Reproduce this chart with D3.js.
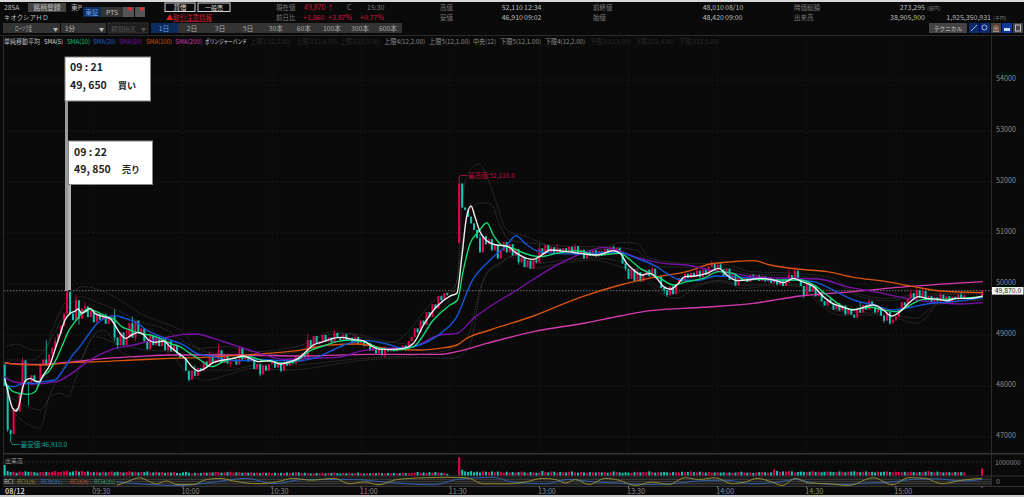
<!DOCTYPE html>
<html>
<head>
<meta charset="utf-8">
<script src="https://cdn.jsdelivr.net/npm/d3@7"></script>
<style>
  html, body { margin: 0; padding: 0; background: #0a0a0a; overflow: hidden; }
  text { font-family: "Noto Sans CJK JP", "Noto Sans", sans-serif; }
  .axis path, .axis line { display: none; }
  .axis text { fill: #8a8a8a; font-size: 7.2px; }
</style>
</head>
<body>
<div id="chart"></div>
<script>
// price ticks and session ticks (minutes counted from 09:00, lunch collapsed)
const priceTicks = [47000, 48000, 49000, 50000, 51000, 52000, 53000, 54000];
const timeTickMinutes = [30, 60, 90, 120, 150, 180, 210, 240, 270, 300];
const timeTickLabels = ["09:30", "10:00", "10:30", "11:00", "11:30", "13:00", "13:30", "14:00", "14:30", "15:00"];

// one minute closes, null where no bar was printed
const candleClose = [
  48000,47140,47060,47560,47500,47850,48500,48080,48030,48210,
  48100,48040,48420,48520,48400,48620,48750,48880,49020,49180,
  49420,49850,49420,49290,49680,49320,49520,49560,49350,49480,
  49250,49420,49300,49400,49220,49340,49380,48950,48800,49050,
  48800,48950,49230,48950,49280,49050,49130,48880,48720,48980,
  48800,48960,48780,48920,48700,48880,48680,48800,48640,48560,
  48550,48300,48120,48300,48200,48350,48300,48480,48380,48600,
  48450,48520,48700,48450,48600,48440,48480,48520,48420,48740,
  48520,48600,48480,48540,48330,48430,48230,48400,48300,48430,
  48500,48360,48440,48300,48480,48400,48500,48440,48580,48480,
  48640,48560,48900,48750,48980,48820,48880,49000,48870,48950,
  48860,49040,48950,48900,49010,48880,48950,48840,48960,48830,
  48880,48780,48840,48690,48780,48640,48720,48600,48730,48680,
  48740,48680,48760,48720,48790,48700,48880,48960,49130,49050,
  49280,49200,49450,49350,49600,49520,49760,49680,49820,49780,
  null,null,null,51970,51500,51450,51320,51190,51060,50900,
  50620,50940,50780,50880,50660,50770,50500,50650,50820,50620,
  50780,50560,50680,50430,50520,50330,50460,50300,50480,50420,
  50700,50580,50760,50620,50720,50600,50690,50590,50700,50620,
  50730,50640,50740,50600,50670,50500,50640,50550,50660,50540,
  50640,50560,50690,50620,50720,50650,50710,50600,50400,50300,
  50100,50290,50060,50230,50050,50200,50280,50150,50300,50120,
  50150,49920,49880,49780,49950,49800,50000,50120,50050,50200,
  50120,50220,50150,50260,50130,50280,50180,50340,50400,50250,
  50380,50290,50160,50300,50080,50190,49970,50120,50060,50130,
  50040,50180,50080,50170,50060,50150,50050,50130,50020,50100,
  49990,50060,49960,50030,50170,50060,50260,50100,49960,49780,
  49990,49850,49970,49760,49840,49660,49580,49700,49620,49500,
  49620,49480,49580,49410,49500,49400,49340,49520,49440,49590,
  49500,49660,49560,49440,49530,49380,49280,49450,49230,49300,
  49360,49500,49640,49580,49720,49820,49700,49880,49730,49860,
  49680,49760,49650,49740,49660,49790,49690,49760,49640,49750,
  49700,49790,49710,49780,null,null,null,null,null,49870
];
// bars that did not open on the previous close
const openMinutes = [0, 153, 329];
const openValues = [48420, 50800, 49780];
const highMinutes = [6,14,17,21,24,27,34,37,41,43,49,64,69,72,79,83,102,105,111,118,128,135,153,160,180,186,192,205,213,218,233,238,241,252,264,266,288,291,305,307,309,315,322];
const highValues = [48560,48900,48950,49870,49790,49640,49420,49500,49100,49360,49050,48400,48680,48840,48790,48640,49020,48950,49100,49010,48780,48800,52110,50980,50780,50780,50790,50760,50320,50370,50320,50460,50430,50200,50300,50340,49640,49700,49880,49930,49900,49840,49840];
const lowMinutes = [1,2,3,8,11,25,37,38,44,47,55,62,76,86,93,128,173,209,222,223,269,283,296,298,300,319];
const lowValues = [47100,46910,47050,47620,47990,49200,48880,48720,48880,48860,48640,48090,48380,48190,48270,48560,50380,50260,49800,49750,49720,49380,49240,49200,49280,49610];

// volume per minute, thousands of shares
const volume = [
  780,330,260,280,200,300,260,310,270,290,
  250,210,260,230,270,250,290,330,240,280,
  320,350,240,300,360,280,330,260,300,250,
  240,280,220,270,230,260,300,240,280,260,
  220,250,310,240,280,230,260,250,300,220,
  230,280,220,250,200,240,220,260,190,160,
  240,270,210,140,200,170,190,220,200,230,
  220,260,240,210,230,250,280,210,230,270,
  200,230,210,240,190,220,180,230,200,220,
  170,210,160,200,180,220,190,210,250,230,
  180,200,170,160,150,190,170,200,160,180,
  190,220,170,150,200,170,190,150,180,210,
  170,150,180,160,190,170,210,170,150,180,
  160,190,150,170,200,180,170,190,210,260,
  200,230,190,250,210,260,220,200,180,120,
  null,null,null,1370,420,300,260,320,240,290,
  230,310,280,250,300,240,290,270,210,280,
  230,260,220,250,290,240,200,260,230,210,
  220,340,250,230,300,280,220,260,250,230,
  280,300,240,210,260,230,200,250,240,220,
  270,230,260,210,240,300,260,230,200,240,
  220,190,250,280,230,260,240,310,250,220,
  260,230,270,240,210,260,230,220,280,240,
  260,300,250,230,280,240,220,260,210,230,
  250,220,240,210,230,190,220,250,280,240,
  210,230,190,220,250,270,240,210,230,440,
  340,260,300,280,320,310,240,260,290,270,
  250,280,330,260,290,240,270,300,280,260,
  250,300,270,240,280,290,310,260,240,280,
  300,260,270,230,290,250,280,300,260,240,
  290,260,240,270,230,280,250,220,260,240,
  280,330,260,240,290,250,230,270,240,220,
  260,240,250,230,null,null,null,null,null,520
];

// moving averages and bands, read at the turning points of each line
const sma5Minutes = [0,1.2,2.7,3.8,4.9,6,7.2,8.7,10.2,11.7,13,15.2,16.9,18.6,20.3,22,23.7,24.8,25.9,27.4,28.7,30.4,33.2,35.4,37.1,38.8,40.8,42.7,45,46.7,48.4,50.6,53.4,55.7,58.5,60.7,63,65.2,67.4,70.2,73.6,77,80.3,82.6,85.4,89.3,92.7,96,98.9,101.7,103.9,107.3,110.6,113.4,116.8,120.7,123.5,126.4,129.7,134.2,137.6,141,145.4,149.9,152.2,153.9,155.5,157,158.3,160,162.3,165.6,169,172.4,175.7,178,180.8,183.6,189.2,193.7,199.3,204.9,207.2,209.4,211.7,214.5,217.3,219.5,221.8,224,226.3,229,232.4,236.4,240.3,243.1,246.5,249.8,254.3,258.8,262.2,265.5,268.4,272.3,275.6,279,282.4,285.7,289.1,292.5,295.8,298.6,301.4,304.3,307.6,310.4,313.8,317.2,320.5,325,329.3];
const sma5Values = [48150,47856,47562,47510,47627,47954,48117,48150,48098,48085,48215,48411,48705,49000,49294,49424,49470,49509,49424,49470,49522,49424,49359,49326,49196,49032,48934,49000,49052,49013,48902,48856,48882,48771,48640,48542,48379,48294,48346,48457,48510,48542,48588,48542,48477,48497,48431,48477,48542,48693,48804,48869,48935,48954,48915,48889,48784,48719,48719,48738,48836,49196,49555,49764,49817,50536,51320,51529,51320,51026,50849,50764,50745,50601,50503,50483,50568,50666,50634,50601,50568,50653,50601,50405,50275,50177,50209,50111,49948,49896,49981,50144,50157,50209,50307,50177,50066,50079,50111,50079,50026,50111,50046,49948,49752,49608,49543,49490,49543,49588,49490,49373,49458,49621,49752,49719,49700,49673,49719,49719,49765];
const sma10Minutes = [0,1.2,2.9,5.2,7.9,10.2,12.4,15.2,17.5,19.7,21.4,23.7,25.9,28.1,30.9,34.3,37.1,39.4,42.2,45.5,48.9,52.3,55.7,59,62.4,65.8,69.7,73.6,78.1,82.6,86,90.4,94.9,99.4,102.8,107.3,111.8,116.3,121.9,126.4,132,137.6,144.3,149.9,152.4,154.4,156.7,159.5,162.3,164.5,167.3,171.2,175.7,180.2,185.8,192.6,199.3,207.2,210.6,213.9,217.3,220.7,225.2,229.6,235.2,240.3,245.3,249.3,254.3,261,267.8,272.3,276.8,281.2,285.7,291.4,295.8,300.3,304.8,309.3,314.9,321.6,329.3];
const sma10Values = [48084,47987,47888,47856,47836,47888,48150,48313,48542,48836,49065,49261,49424,49509,49457,49359,49294,49163,49098,49032,49000,48934,48836,48771,48640,48510,48379,48477,48562,48575,48510,48477,48444,48542,48693,48784,48869,48902,48849,48738,48706,48771,49294,49588,49686,50274,50797,51026,51202,50960,50764,50699,50588,50536,50601,50653,50568,50601,50471,50307,50209,50111,49981,50046,50111,50242,50209,50079,50092,50079,50079,49981,49784,49588,49503,49543,49490,49458,49588,49699,49699,49719,49752];
const sma20Minutes = [0,2.9,6.3,9.6,13,16.9,19.7,22.5,25.3,28.1,30.9,34.3,37.1,40.5,44.4,47.8,51.2,55.7,60.2,64.6,69.1,74.7,80.3,86,92.7,98.3,105,110.6,116.3,121.9,128.6,134.2,138.7,146.5,152.2,157.2,163.4,169,172.1,175.2,179.1,184.7,192.6,200.4,207.2,212.8,218.4,222.9,226.8,233,239.7,245.3,252,259.9,266.7,272.3,279,285.7,292.5,299.2,304.8,310.4,319.4,329.3];
const sma20Values = [48019,47987,48052,48052,48085,48117,48313,48575,48771,49000,49209,49346,49379,49326,49241,49098,49000,48902,48804,48640,48588,48510,48497,48523,48497,48497,48562,48706,48849,48889,48823,48738,48784,49019,49359,50045,50470,50764,50947,50797,50653,50601,50588,50614,50614,50503,50373,50209,50092,50066,50157,50144,50111,50066,50079,50046,49882,49686,49588,49490,49543,49608,49654,49732];
const sma50Minutes = [0,2.9,9.6,17.5,22.5,28.7,35.4,43.3,50,55.7,60.2,64.6,70.2,78.1,86,93.8,100.5,111.8,120.7,128.6,136.4,146.5,152.2,157.8,172.4,187,195.9,201.8,207.2,213.9,221.8,229.6,238.6,245.3,254.3,266.7,274.5,283.5,292.5,303.7,313.8,321.6,329.3];
const sma50Values = [48183,48084,48039,48085,48248,48509,48705,48803,48902,48967,49013,49019,48934,48784,48640,48523,48542,48562,48693,48738,48758,49000,49032,49326,49882,50405,50634,50719,50640,50503,50405,50373,50262,50209,50131,50111,50092,49948,49850,49719,49634,49608,49634];
const sma100Minutes = [0,4,13,23.1,32,43.3,55.7,66.9,83.7,98.3,109.5,118.5,128.6,139.8,146.3,152.2,155.5,163.4,178,193.7,207.2,218.4,229.6,237.5,245.3,252,257.7,267.8,276.8,285.7,296.9,305.9,314.9,329.3];
const sma100Values = [48464,48424,48411,48464,48477,48509,48542,48562,48621,48693,48804,48823,48738,48706,48738,48804,48934,49098,49372,49738,49981,50131,50242,50392,50438,50458,50373,50288,50242,50131,50046,49948,49863,49830];
const sma200Minutes = [0,11.9,23.1,34.3,45.5,55.7,78.1,100.5,123,146.3,152.2,162.3,178,195.9,207.2,217.3,235.2,252,267.8,285.7,303.7,319.4,329.3];
const sma200Values = [48444,48424,48477,48542,48581,48608,48608,48588,48621,48621,48673,48836,49065,49241,49373,49477,49543,49621,49765,49850,49948,50013,50046];
const bandUpperMinutes = [0.7,4,9.6,13.6,16.4,20.9,26.5,32,38.8,45.5,52.3,59,65.7,74.7,83.7,95,100,110,130,145,152,154.4,156.7,159.5,162.8,165.6,169,175.7,182.5,191.5,200,207,212.8,217.3,229.6,239.7,252,266.7,279,285.7,297,305.9,319.4,329.3];
const bandUpperValues = [48771,48823,48705,48705,49163,49686,49947,49882,49686,49424,49261,49098,48738,48771,48673,48738,48800,49060,48850,49700,50000,51777,52235,52353,52039,51581,51058,50928,50764,50666,50666,50811,50798,50503,50405,50405,50242,50209,50111,49850,49719,49784,49817,49830];
const bandLowerMinutes = [2,11.9,15.2,18.6,21.4,23.7,27.6,33.2,39.9,47.8,56.8,61.2,68,74.7,83.7,95,120,140,150,154.4,157.2,160,162.3,165.6,170,178,187,198,207,212.8,221.8,226,233,241,248.7,260,267.8,273.4,281.2,292.5,300.3,307,310,313.8,329.3];
const bandLowerValues = [47529,47169,47790,47856,47790,48117,48771,49098,48640,48542,48542,48248,48117,48215,48346,48313,48500,48560,48542,48640,48902,49817,50209,50340,50535,50307,50405,50470,50340,50209,49784,49719,49948,50046,49915,49981,49948,49654,49392,49392,49327,49229,49327,49588,49686];
const bandInnerUpperMinutes = [0.7,9.6,14,19.7,25.3,32,37.7,45.5,54.5,61.2,70.2,83.7,95,100,108,116,128,138,145,152,154.4,157.2,161.1,164,166.8,170,178,190,205,213,218,230,240,252,267,279,286,297,306,319,329];
const bandInnerUpperValues = [48510,48510,48771,49359,49751,49620,49490,49261,49098,48836,48640,48607,48640,48700,49000,49030,48880,48820,49350,50013,50928,51516,51594,51549,51124,50862,50797,50740,50720,50650,50350,50330,50330,50190,50160,50050,49800,49670,49740,49790,49810];
const bandInnerLowerMinutes = [1.8,11.9,17.5,22,25.3,30,37.7,47.8,56.8,62.4,68,75.8,84.8,95,120,140,150,156,160,163,167,172,178,187,198,207,213,222,226,233,241,249,260,268,273,281,292,300,307,310,314,329];
const bandInnerLowerValues = [47790,47530,48117,48510,48510,48967,48836,48705,48672,48444,48313,48313,48411,48411,48540,48620,48720,49000,49900,50270,50420,50560,50400,50460,50510,50440,50270,49880,49830,49990,50070,49970,50010,49980,49730,49460,49430,49380,49330,49440,49620,49700];

// RCI lines, -100 to 100
const rciShortMinutes = [37.7,41,45.5,49,51,54.5,58,63.5,68,72.5,77,81.5,86,91.5,97,103,111,116,121,126,131,136.4,142,149,155.5,161,170.8,175.3,181,185.4,188.8,192.1,196.6,202.2,206.7,212.3,217.9,223.5,229.1,233.6,239.2,244.9,249.3,253.3,258.3,261.7,266.2,270.7,277.4,284.1,292.5,298.7,304.4,310,315.5,322.3,329];
const rciShortValues = [-100,-17,83,-17,-58,8,-75,-75,42,67,8,-42,-58,-17,67,25,67,-58,-17,-83,25,67,83,92,83,-58,-58,-17,67,42,-42,42,-75,67,25,-100,-17,-75,83,42,83,-58,-17,67,-17,-100,67,-42,-58,-100,83,-83,83,67,-58,25,67];
const rciLongMinutes = [37.7,59,68,81.5,90.4,100.6,117.4,127.5,144.3,152.3,164.5,170.8,182,189.9,198.8,206.7,215.7,224.6,233.6,242.6,251.6,260.6,266.2,274,283,289.8,298.7,305.4,313.3,322.3,329];
const rciLongValues = [-17,-100,-42,67,-58,42,42,-17,-83,42,92,-17,-58,42,-17,-42,-75,-58,8,25,-58,-17,42,-58,-75,-42,-17,42,58,8,42];

class StockChart {
  constructor(_config) {
    this.config = {
      parentElement: _config.parentElement,
      containerWidth: _config.containerWidth || 1024,
      containerHeight: _config.containerHeight || 497,
    };
    this.initVis();
  }

  initVis() {
    let vis = this;

    vis.svg = d3.select(vis.config.parentElement).append("svg")
      .attr("width", vis.config.containerWidth)
      .attr("height", vis.config.containerHeight)
      .style("display", "block");

    vis.svg.append("rect")
      .attr("width", vis.config.containerWidth)
      .attr("height", vis.config.containerHeight)
      .attr("fill", "#0a0a0a");

    // Initialize scales
    vis.xScale = d3.scaleLinear().domain([0, 329]).range([4.7, 982]);
    vis.yScale = d3.scaleLinear().domain([47000, 54000]).range([437, 80]);
    vis.volumeScale = d3.scaleLinear().domain([0, 1000000]).range([475.5, 462]);
    vis.rciScale = d3.scaleLinear().domain([-100, 100]).range([485.5, 477]);

    vis.renderFrame();
    vis.renderAxes();
    vis.renderBands();
    vis.renderCandles();
    vis.renderAverages();
    vis.renderVolume();
    vis.renderRci();
    vis.renderHeader();
    vis.renderNotes();
  }

  label(text, x, y, color, size, anchor, weight) {
    return this.svg.append("text")
      .attr("x", x).attr("y", y)
      .attr("fill", color || "#9a9a9a")
      .attr("font-size", size || 7)
      .attr("text-anchor", anchor || "start")
      .attr("font-weight", weight || "normal")
      .text(text);
  }

  // legend entries are squeezed to the width they have in the toolbar
  legend(text, x, w, color) {
    return this.label(text, x, 43.5, color, 6.5)
      .attr("textLength", w)
      .attr("lengthAdjust", "spacingAndGlyphs");
  }

  box(x, y, w, h, fill, stroke) {
    return this.svg.append("rect")
      .attr("x", x).attr("y", y).attr("width", w).attr("height", h)
      .attr("fill", fill).attr("stroke", stroke || "none");
  }

  renderFrame() {
    let vis = this;
    vis.box(0, 0, 1024, 2, "#d8d8d8");
    vis.box(0, 495, 1024, 2, "#c8c8c8");
    vis.box(3, 35, 1, 452, "#2b2b2b");
    vis.box(991, 35, 1, 452, "#2b2b2b");
    vis.box(0, 35, 1024, 1, "#2b2b2b");
    vis.box(3, 453, 1021, 1.5, "#333");
    vis.box(3, 475.5, 1021, 1, "#333");
    vis.box(3, 477, 988, 9, "#1c1c1c");
    vis.box(3, 486, 1021, 1, "#333");
    [479, 481.2, 483.4].forEach(y => vis.box(3, y, 988, 0.6, "#4a4a4a"));
  }

  renderAxes() {
    let vis = this;

    vis.svg.append("g").selectAll("line")
      .data(priceTicks)
      .join("line")
        .attr("x1", 4).attr("x2", 991)
        .attr("y1", d => vis.yScale(d)).attr("y2", d => vis.yScale(d))
        .attr("stroke", "#232323").attr("stroke-dasharray", "2,2").attr("stroke-width", 0.7);

    vis.svg.append("g").selectAll("line")
      .data(timeTickMinutes)
      .join("line")
        .attr("x1", d => vis.xScale(d)).attr("x2", d => vis.xScale(d))
        .attr("y1", 36).attr("y2", 453)
        .attr("stroke", "#1a1a1a").attr("stroke-dasharray", "2,2").attr("stroke-width", 0.7);

    const yAxisG = vis.svg.append("g").attr("class", "axis")
      .attr("transform", "translate(993,0)")
      .call(d3.axisRight(vis.yScale).tickValues(priceTicks).tickSize(0).tickPadding(3).tickFormat(d3.format("d")));
    yAxisG.selectAll("text").attr("dy", "0.1em");

    const xAxisG = vis.svg.append("g").attr("class", "axis")
      .attr("transform", "translate(7,484)")
      .call(d3.axisBottom(vis.xScale).tickValues(timeTickMinutes).tickSize(0).tickPadding(0)
        .tickFormat((d, i) => timeTickLabels[i]));
    xAxisG.selectAll("text").attr("dy", "0").attr("y", 10);

    vis.svg.append("g").selectAll("rect")
      .data(timeTickMinutes.concat([329]))
      .join("rect")
        .attr("x", d => vis.xScale(d) - 0.5).attr("y", 486)
        .attr("width", 1).attr("height", 2).attr("fill", "#777");

    vis.label("08/12", 5, 494, "#c8c8c8", 7.2, "start", "bold");
    vis.label("1000000", 995, 465, "#8a8a8a", 6.6);
    vis.label("0", 996, 484, "#8a8a8a", 7);

    // last price line
    const lastY = vis.yScale(49870);
    vis.svg.append("line")
      .attr("x1", 4).attr("x2", 992).attr("y1", lastY).attr("y2", lastY)
      .attr("stroke", "#5c5c5c").attr("stroke-dasharray", "1.5,1.5").attr("stroke-width", 1.2);
    vis.box(992, lastY - 3.6, 31.5, 7.6, "#f4f4f4");
    vis.label("49,870.0", 1008, lastY + 2.4, "#222", 6.8, "middle");
  }

  renderBands() {
    let vis = this;
    const line = d3.line().curve(d3.curveMonotoneX);
    [
      [bandUpperMinutes, bandUpperValues],
      [bandLowerMinutes, bandLowerValues],
      [bandInnerUpperMinutes, bandInnerUpperValues],
      [bandInnerLowerMinutes, bandInnerLowerValues],
    ].forEach(([m, v]) => {
      vis.svg.append("path")
        .attr("d", line(m.map((d, i) => [vis.xScale(d), vis.yScale(v[i])])))
        .attr("fill", "none").attr("stroke", "#484848")
        .attr("stroke-width", 0.7).attr("stroke-dasharray", "1.5,1");
    });
  }

  candleData() {
    let prev = null;
    return candleClose.map((close, minute) => {
      if (close === null) return null;
      const oi = openMinutes.indexOf(minute);
      const open = oi >= 0 ? openValues[oi] : prev;
      prev = close;
      const hi = highMinutes.indexOf(minute);
      const lo = lowMinutes.indexOf(minute);
      return {
        minute, open, close,
        high: hi >= 0 ? highValues[hi] : Math.max(open, close),
        low: lo >= 0 ? lowValues[lo] : Math.min(open, close),
      };
    }).filter(d => d);
  }

  renderCandles() {
    let vis = this;
    vis.candles = vis.candleData();
    const colour = d => d.close >= d.open ? "#e6004e" : "#12c4b4";

    vis.svg.append("g").selectAll("line")
      .data(vis.candles)
      .join("line")
        .attr("x1", d => vis.xScale(d.minute)).attr("x2", d => vis.xScale(d.minute))
        .attr("y1", d => vis.yScale(d.high)).attr("y2", d => vis.yScale(d.low))
        .attr("stroke", colour).attr("stroke-width", 0.8);

    vis.svg.append("g").selectAll("rect")
      .data(vis.candles)
      .join("rect")
        .attr("x", d => vis.xScale(d.minute) - 1)
        .attr("width", 2)
        .attr("y", d => vis.yScale(Math.max(d.open, d.close)))
        .attr("height", d => Math.max(1, Math.abs(vis.yScale(d.open) - vis.yScale(d.close))))
        .attr("fill", colour);
  }

  renderAverages() {
    let vis = this;
    const line = d3.line().curve(d3.curveMonotoneX);
    const series = [
      [sma200Minutes, sma200Values, "#d53bb0"],
      [sma100Minutes, sma100Values, "#d8530c"],
      [sma50Minutes, sma50Values, "#7a12a8"],
      [sma20Minutes, sma20Values, "#1158d8"],
      [sma10Minutes, sma10Values, "#14d874"],
      [sma5Minutes, sma5Values, "#eeeeee"],
    ];
    series.forEach(([m, v, c]) => {
      vis.svg.append("path")
        .attr("d", line(m.map((d, i) => [vis.xScale(d), vis.yScale(v[i])])))
        .attr("fill", "none").attr("stroke", c).attr("stroke-width", 1.4);
    });
  }

  renderVolume() {
    let vis = this;
    const byMinute = new Map(vis.candles.map(d => [d.minute, d]));
    vis.svg.append("line")
      .attr("x1", 4).attr("x2", 991).attr("y1", vis.volumeScale(1000000)).attr("y2", vis.volumeScale(1000000))
      .attr("stroke", "#2a2a2a").attr("stroke-dasharray", "2,2");
    vis.svg.append("g").selectAll("rect")
      .data(volume.map((v, minute) => ({minute, v})).filter(d => d.v !== null))
      .join("rect")
        .attr("x", d => vis.xScale(d.minute) - 1)
        .attr("width", 2)
        .attr("y", d => vis.volumeScale(d.v * 1000))
        .attr("height", d => vis.volumeScale(0) - vis.volumeScale(d.v * 1000))
        .attr("fill", d => {
          const c = byMinute.get(d.minute);
          return c && c.close >= c.open ? "#e6004e" : "#12c4b4";
        });
    vis.label("出来高", 5, 462.5, "#9a9a9a", 6);
  }

  renderRci() {
    let vis = this;
    const line = d3.line().curve(d3.curveMonotoneX);
    [[rciLongMinutes, rciLongValues, "#2f5fae"], [rciShortMinutes, rciShortValues, "#8f8a2e"]].forEach(([m, v, c]) => {
      vis.svg.append("path")
        .attr("d", line(m.map((d, i) => [vis.xScale(d), vis.rciScale(v[i])])))
        .attr("fill", "none").attr("stroke", c).attr("stroke-width", 1);
    });
    vis.label("RCI", 4, 484, "#b8b8b8", 6);
    vis.label("RCI1(9)", 17, 484, "#8f8a2e", 5.5);
    vis.label("RCI2(21)", 41, 484, "#2f6fc0", 5.5);
    vis.label("RCI3(9)", 70, 484, "#c0501c", 5.5);
    vis.label("RCI4(21)", 94, 484, "#2e9a62", 5.5);
  }

  renderHeader() {
    let vis = this;
    const grey = "#7c7c7c", light = "#bcbcbc", red = "#d8123f";

    vis.label("285A", 4, 9.5, light, 6.8);
    vis.box(28, 3, 38, 9, "#444");
    vis.label("銘柄登録", 47, 9.8, "#bbb", 6.8, "middle");
    vis.label("東P", 71, 9.5, light, 6.8);
    vis.box(83, 7, 18, 10, "#0c2a5c");
    vis.label("東証", 92, 14.5, "#6aa0e0", 6.8, "middle");
    vis.box(101, 7, 22, 10, "#333");
    vis.label("PTS", 112, 14.5, "#bbb", 6.8, "middle");
    vis.box(123, 7, 11, 10, "#555");
    vis.box(135, 7, 10, 10, "#555");
    vis.svg.append("circle").attr("cx", 130).attr("cy", 9).attr("r", 2).attr("fill", "#e03030");
    vis.svg.append("circle").attr("cx", 142).attr("cy", 9).attr("r", 2).attr("fill", "#e03030");
    vis.label("キオクシアＨＤ", 4, 20, light, 6.4);

    vis.box(165, 3, 30, 8.5, "#0a0a0a", "#d0d0d0");
    vis.label("貸借", 180, 9.8, "#ddd", 6.5, "middle");
    vis.box(198, 3, 32, 8.5, "#0a0a0a", "#d0d0d0");
    vis.label("一般売", 214, 9.8, "#ddd", 6, "middle");
    vis.label("▲", 166, 20, "#e02020", 7);
    vis.label("取引注意情報", 173, 20, "#d02030", 6.5).attr("text-decoration", "underline");

    vis.label("現在値", 276, 9.5, grey, 6.5);
    vis.label("49,870 ↑", 304, 9.5, red, 7);
    vis.label("C", 347, 9.5, grey, 7);
    vis.label("15:30", 367, 9.5, grey, 7);
    vis.label("前日比", 276, 19.5, grey, 6.5);
    vis.label("+1,860", 303, 19.5, red, 7);
    vis.label("+3.87%", 328, 19.5, red, 7);
    vis.label("+0.77%", 360, 19.5, red, 7);

    vis.label("高値", 440, 9.5, grey, 6.5);
    vis.label("52,110", 523, 9.5, light, 7, "end");
    vis.label("12:34", 524, 9.5, light, 7);
    vis.label("安値", 440, 19.5, grey, 6.5);
    vis.label("46,910", 523, 19.5, light, 7, "end");
    vis.label("09:02", 524, 19.5, light, 7);
    vis.label("前終値", 593, 9.5, grey, 6.5);
    vis.label("48,010", 724, 9.5, light, 7, "end");
    vis.label("08/10", 725, 9.5, light, 7);
    vis.label("始値", 593, 19.5, grey, 6.5);
    vis.label("48,420", 724, 19.5, light, 7, "end");
    vis.label("09:00", 725, 19.5, light, 7);
    vis.label("時価総額", 794, 9.5, grey, 6.5);
    vis.label("273,295", 925, 9.5, light, 7, "end");
    vis.label("(億円)", 927, 9.5, grey, 5);
    vis.label("出来高", 794, 19.5, grey, 6.5);
    vis.label("38,905,900", 925, 19.5, light, 7, "end");
    vis.label("1,925,350,931", 991, 19.5, light, 7, "end");
    vis.label("(千円)", 993, 19.5, grey, 5);

    // selector row
    vis.box(3, 23, 57, 10, "#333");
    vis.label("ローソク足", 15, 30.5, light, 6.5)
      .attr("textLength", 17).attr("lengthAdjust", "spacingAndGlyphs");
    vis.label("▼", 53, 30.5, light, 5);
    vis.box(61, 23, 45, 10, "#333");
    vis.label("1分", 65, 30.5, light, 6.5);
    vis.label("▼", 99, 30.5, light, 5);
    vis.box(108, 23, 40, 10, "#1e1e1e", "#333");
    vis.label("期間指定", 111, 30.5, "#555", 6.2);
    vis.label("▼", 141, 30.5, "#555", 5);
    vis.box(151, 23, 251, 10, "#333");
    vis.box(151, 23, 27, 10, "#0c2a5c");
    vis.label("1日", 164, 30.5, "#6aa0e0", 6.8, "middle");
    [["2日", 192], ["3日", 220], ["5日", 248], ["30本", 276], ["60本", 304], ["100本", 332], ["300本", 360], ["600本", 388]]
      .forEach(([t, x]) => vis.label(t, x, 30.5, "#a8a8a8", 6.8, "middle"));

    vis.box(929, 23, 38, 10, "#444");
    vis.label("テクニカル", 948, 30.5, "#ccc", 5.6, "middle");
    [[969, "#0c2a6c"], [980, "#0c2a6c"], [991, "#444"], [1002, "#0c3a9c"], [1013, "#444"]]
      .forEach(([x, c]) => vis.box(x, 23, 10, 10, c));
    vis.svg.append("line").attr("x1", 971).attr("y1", 31).attr("x2", 977).attr("y2", 25)
      .attr("stroke", "#9ab8e8").attr("stroke-width", 1);
    vis.svg.append("circle").attr("cx", 984.5).attr("cy", 27.5).attr("r", 2.5)
      .attr("fill", "none").attr("stroke", "#9ab8e8");
    vis.label("出", 996, 30.5, "#ccc", 6.5, "middle");
    vis.box(1004, 28, 6, 3, "#c8dcf8");
    vis.box(1015.5, 25, 5, 6, "none", "#bbb");

    // legend row
    vis.legend("単純移動平均", 4, 36, light);
    vis.legend("SMA(5)", 44, 19, "#dddddd");
    vis.legend("SMA(10)", 67, 23, "#12c870");
    vis.legend("SMA(20)", 93, 23, "#1f62d8");
    vis.legend("SMA(50)", 119, 23, "#7a12a8");
    vis.legend("SMA(100)", 146, 26, "#d8530c");
    vis.legend("SMA(200)", 175, 27, "#d53bb0");
    vis.legend("ボリンジャーバンド", 205, 42, "#dddddd");
    vis.legend("上限1(12,5.00)", 250, 41, "#2a2a2a");
    vis.legend("上限2(12,4.00)", 296, 41, "#2a2a2a");
    vis.legend("上限3(12,3.00)", 340, 40, "#2a2a2a");
    vis.legend("上限4(12,2.00)", 384, 41, "#8a8a8a");
    vis.legend("上限5(12,1.00)", 429, 41, "#8a8a8a");
    vis.legend("中央(12)", 473, 23, "#8a8a8a");
    vis.legend("下限5(12,1.00)", 500, 41, "#8a8a8a");
    vis.legend("下限4(12,2.00)", 545, 40, "#8a8a8a");
    vis.legend("下限3(12,3.00)", 590, 40, "#2a2a2a");
    vis.legend("下限2(12,4.00)", 635, 39, "#2a2a2a");
    vis.legend("下限1(12,5.00)", 679, 40, "#2a2a2a");
  }

  renderNotes() {
    let vis = this;

    // high and low markers
    const hiX = vis.xScale(153), hiY = vis.yScale(52110);
    vis.svg.append("path").attr("d", `M${hiX},${hiY}L${hiX + 2},${hiY - 1}L${hiX + 8},${hiY - 1}`)
      .attr("fill", "none").attr("stroke", "#d01048").attr("stroke-width", 0.8);
    vis.label("最高値:52,110.0", hiX + 9, hiY + 1.5, "#c01040", 6.5);
    const loX = vis.xScale(2), loY = vis.yScale(46910);
    vis.svg.append("path").attr("d", `M${loX},${loY}L${loX + 2},${loY + 3}L${loX + 9},${loY + 3}`)
      .attr("fill", "none").attr("stroke", "#12a89c").attr("stroke-width", 0.8);
    vis.label("最安値:46,910.0", loX + 10, loY + 5.5, "#12a89c", 6.5);

    // hand-placed trade notes
    vis.box(65, 100, 3, 191, "#9a9a9a");
    vis.box(68, 184, 3, 106, "#b0b0b0");
    vis.box(65, 57, 85.5, 44, "#ffffff", "#888");
    vis.label("09 : 21", 70, 70.5, "#222", 10.5, "start", "bold");
    vis.label("49, 650", 70, 89, "#222", 10.5, "start", "bold");
    vis.label("買い", 118, 89, "#222", 9, "start", "bold");
    vis.box(68.5, 141, 84, 43.5, "#ffffff", "#888");
    vis.label("09 : 22", 74, 155.5, "#222", 10.5, "start", "bold");
    vis.label("49, 850", 74, 173, "#222", 10.5, "start", "bold");
    vis.label("売り", 122, 173, "#222", 9, "start", "bold");
  }
}

const chart = new StockChart({ parentElement: "#chart" });
</script>
</body>
</html>
